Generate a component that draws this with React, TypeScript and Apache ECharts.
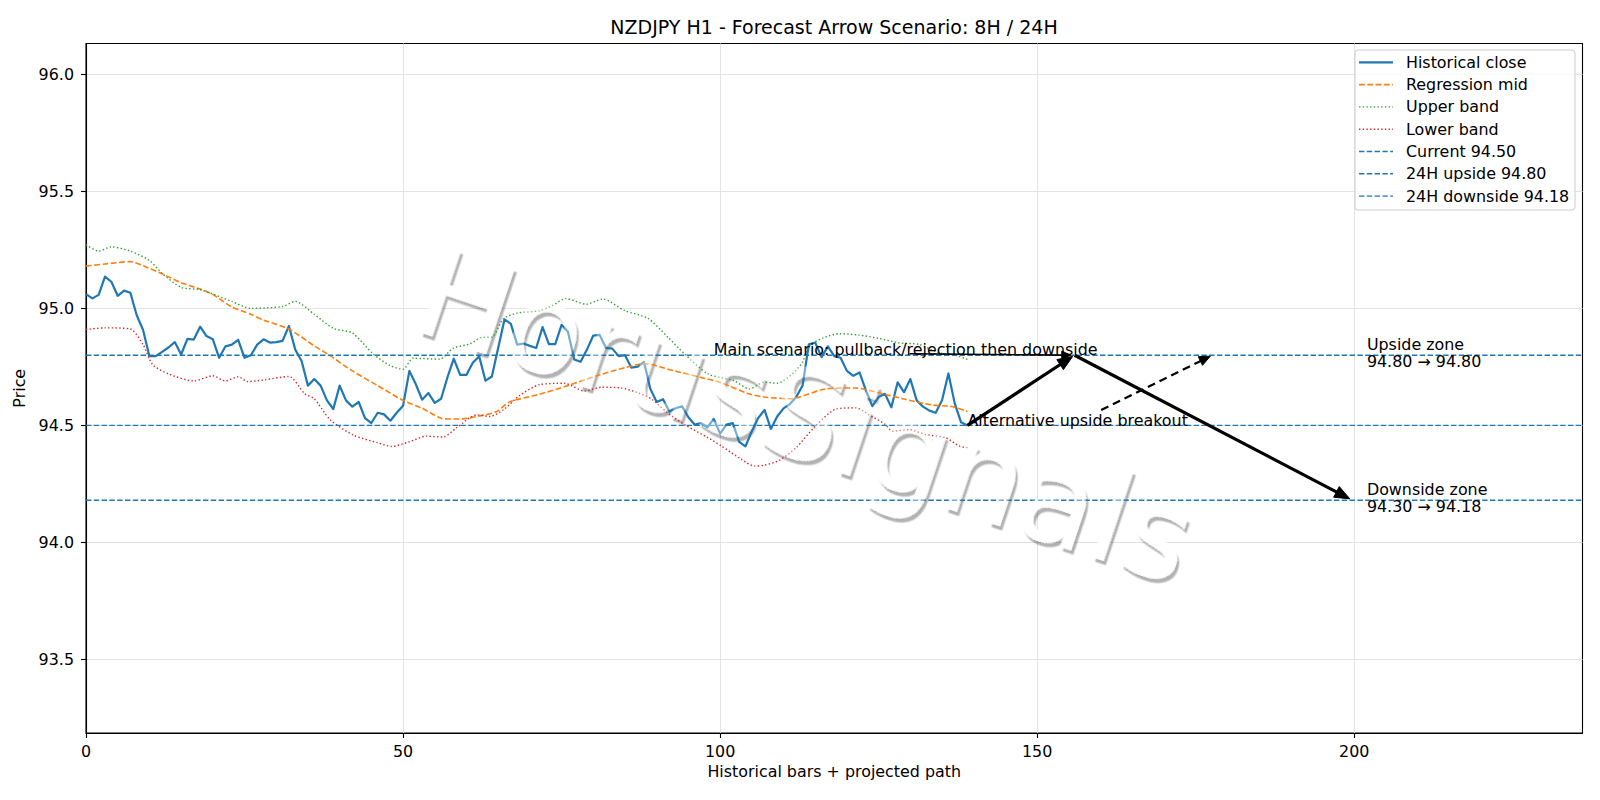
import React, { useEffect, useRef } from "react";
import * as echarts from "echarts";

const FONT = "DejaVu Sans";
const FS = 15.9;

// Historical close (bar index 0..139)
const closeValues: number[] = [
  95.061, 95.043, 95.058, 95.136, 95.114, 95.054, 95.076, 95.067, 94.971, 94.908,
  94.796, 94.796, 94.814, 94.833, 94.856, 94.803, 94.870, 94.867, 94.922, 94.882,
  94.868, 94.789, 94.838, 94.845, 94.866, 94.789, 94.800, 94.845, 94.868, 94.854,
  94.856, 94.861, 94.925, 94.824, 94.775, 94.670, 94.698, 94.670, 94.607, 94.570,
  94.670, 94.607, 94.580, 94.600, 94.531, 94.510, 94.554, 94.547, 94.520, 94.554,
  94.584, 94.733, 94.677, 94.610, 94.638, 94.596, 94.614, 94.705, 94.785, 94.716,
  94.716, 94.768, 94.796, 94.691, 94.709, 94.831, 94.953, 94.934, 94.845, 94.850,
  94.840, 94.831, 94.920, 94.847, 94.847, 94.930, 94.900, 94.782, 94.772, 94.824,
  94.884, 94.887, 94.831, 94.828, 94.796, 94.800, 94.747, 94.751, 94.771, 94.656,
  94.600, 94.612, 94.559, 94.573, 94.582, 94.535, 94.503, 94.510, 94.492, 94.528,
  94.465, 94.503, 94.510, 94.430, 94.410, 94.475, 94.531, 94.566, 94.485, 94.538,
  94.573, 94.591, 94.621, 94.670, 94.847, 94.854, 94.792, 94.838, 94.796, 94.789,
  94.733, 94.712, 94.726, 94.649, 94.582, 94.621, 94.635, 94.577, 94.684, 94.642,
  94.698, 94.607, 94.580, 94.563, 94.554, 94.607, 94.722, 94.594, 94.513, 94.500,
];

// Regression mid [bar, price]
const regressionMid: [number, number][] = [
  [0, 95.181], [3, 95.19], [7, 95.2], [9, 95.182], [12, 95.148], [15, 95.11], [18, 95.083],
  [20, 95.06], [23, 95.006], [26, 94.975], [28, 94.95], [32, 94.912], [36, 94.84],
  [38.5, 94.798], [42, 94.733], [46, 94.67], [50, 94.607], [53, 94.573], [56, 94.531],
  [57.5, 94.527], [59.5, 94.528], [62, 94.54], [64.7, 94.558], [66.8, 94.6], [71.5, 94.633],
  [76, 94.67], [81, 94.716], [85, 94.747], [88, 94.764], [92.8, 94.733], [97, 94.705],
  [100, 94.684], [104.4, 94.636], [107, 94.621], [111, 94.614], [116.7, 94.656],
  [121.4, 94.66], [124.6, 94.642], [128.8, 94.614], [133.5, 94.587], [136.7, 94.58], [139, 94.559],
];

// Upper band [bar, price]
const upperBand: [number, number][] = [
  [0, 95.272], [2, 95.245], [4, 95.263], [7, 95.245], [10, 95.205], [12, 95.15], [15, 95.09],
  [18, 95.08], [23, 95.03], [26, 95.0], [31, 95.008], [33, 95.03], [36, 94.975],
  [39, 94.915], [42, 94.895], [45.3, 94.805], [48, 94.755], [50, 94.74], [51.6, 94.787],
  [55.8, 94.783], [57.9, 94.83], [60.5, 94.848], [62.6, 94.877], [64, 94.877], [65.8, 94.955],
  [68, 94.98], [71.5, 94.99], [73.4, 95.01], [75.7, 95.042], [78.9, 95.018], [81.5, 95.04],
  [85, 94.99], [88.6, 94.958], [91.8, 94.876], [94.4, 94.805], [98.1, 94.72], [102.2, 94.691],
  [104.6, 94.656], [107, 94.685], [109, 94.68], [111.4, 94.72], [113, 94.77], [114, 94.838],
  [116.2, 94.873], [118.8, 94.892], [121.9, 94.886], [125, 94.872], [128.2, 94.853],
  [131.4, 94.846], [134.5, 94.81], [136.7, 94.803], [139, 94.782],
];

// Lower band [bar, price]
const lowerBand: [number, number][] = [
  [0, 94.91], [3, 94.917], [7, 94.912], [9, 94.845], [10.5, 94.76], [13, 94.72], [17, 94.69],
  [20, 94.712], [22, 94.69], [24, 94.708], [25.5, 94.687], [28, 94.694], [32, 94.709],
  [34.5, 94.635], [36, 94.614], [38.5, 94.524], [42.2, 94.458], [46, 94.426], [48.2, 94.41],
  [51, 94.43], [53.7, 94.454], [56.3, 94.45], [58.4, 94.489], [61.6, 94.545], [63.7, 94.538],
  [65.8, 94.566], [68.4, 94.628], [71.5, 94.674], [75.5, 94.68], [78.6, 94.647], [81.3, 94.663],
  [84.4, 94.66], [87, 94.64], [89.1, 94.614], [91.8, 94.552], [94.4, 94.503], [98.1, 94.447],
  [100.2, 94.412], [103.3, 94.356], [105.4, 94.326], [107, 94.33], [109.3, 94.35], [112, 94.405],
  [115, 94.496], [118.3, 94.57], [121.4, 94.575], [123.5, 94.545], [126, 94.505], [127.2, 94.475],
  [129.8, 94.482], [132.4, 94.461], [135.6, 94.447], [137.7, 94.412], [139, 94.405],
];

const currentLevel = 94.5;
const upsideLevel = 94.8;
const downsideLevel = 94.18;

const xTicks = [0, 50, 100, 150, 200];
const yTicks = [93.5, 94.0, 94.5, 95.0, 95.5, 96.0];
const X_MIN = 0;
const X_MAX = 236;
const Y_MIN = 93.185;
const Y_MAX = 96.1325;

// Arrow end points: [x1, y1, x2, y2]
const arrowPoints: number[][] = [
  [139, 94.5, 155.6, 94.795],
  [155.9, 94.8, 199.3, 94.186],
  [129.9, 94.806, 155.3, 94.8],
  [160.1, 94.566, 177.3, 94.796],
];
// Arrow styles: lineWidth, dashed, head length, head half width
const arrowStyles = [
  { w: 3.2, dashed: false, hl: 15, hw: 6 },
  { w: 3.2, dashed: false, hl: 15, hw: 6 },
  { w: 1.6, dashed: false, hl: 9, hw: 4 },
  { w: 2.2, dashed: true, hl: 11, hw: 4.8 },
];

// Annotations
const annotationTexts = [
  "Main scenario: pullback/rejection then downside",
  "Alternative upside breakout",
  "Upside zone\n94.80 \u2192 94.80",
  "Downside zone\n94.30 \u2192 94.18",
];
const annotationX = [99, 139, 202, 202];
const annotationY = [94.8, 94.5, 94.8, 94.18];
const annotationShift = [-6, -5, -2.3, -2.3];

const legendNames = [
  "Historical close",
  "Regression mid",
  "Upper band",
  "Lower band",
  "Current 94.50",
  "24H upside 94.80",
  "24H downside 94.18",
];

const lineStyles: any[] = [
  { color: "#1f77b4", width: 2.2, type: "solid" },
  { color: "#ff7f0e", width: 1.6, type: [5.8, 2.5] },
  { color: "#2ca02c", width: 1.4, type: [1.4, 2.3] },
  { color: "#d62728", width: 1.4, type: [1.4, 2.3] },
  { color: "#1f77b4", width: 1.4, type: [5.4, 2.4] },
  { color: "#1f77b4", width: 1.4, type: [5.4, 2.4] },
  { color: "#1f77b4", width: 1.4, type: [5.4, 2.4] },
];

const WATERMARK = "HorusSignals";

function hLine(level: number): [number, number][] {
  return [
    [X_MIN, level],
    [X_MAX, level],
  ];
}

export default function App() {
  const ref = useRef<HTMLDivElement>(null);

  useEffect(() => {
    if (!ref.current) return;
    const chart = echarts.init(ref.current, null, { renderer: "svg" });

    const axisText = { color: "#000", fontSize: FS, fontFamily: FONT };

    const seriesData: any[] = [
      closeValues.map((v, i) => [i, v]),
      regressionMid,
      upperBand,
      lowerBand,
      hLine(currentLevel),
      hLine(upsideLevel),
      hLine(downsideLevel),
    ];
    const smoothFlags = [false, 0.25, 0.25, 0.25, false, false, false];

    const lineSeries = legendNames.map((name, k) => ({
      name,
      type: "line",
      data: seriesData[k],
      symbol: "none",
      smooth: smoothFlags[k],
      lineStyle: { ...lineStyles[k], join: "round" },
      itemStyle: { color: lineStyles[k].color },
      z: 3,
    }));

    // manual legend (matplotlib style)
    const legLeft = 1355;
    const legTop = 50;
    const rowY0 = 62.3;
    const rowGap = 22.3;
    const legendGraphics: any[] = [
      {
        type: "rect",
        shape: { x: legLeft, y: legTop, width: 220, height: 160, r: 3 },
        style: { fill: "rgba(255,255,255,0.8)", stroke: "#cccccc", lineWidth: 1 },
        z: 50,
        silent: true,
      },
    ];
    legendNames.forEach((name, k) => {
      const cy = rowY0 + k * rowGap;
      const ls = lineStyles[k];
      legendGraphics.push({
        type: "line",
        shape: { x1: 1359, y1: cy, x2: 1393, y2: cy },
        style: {
          stroke: ls.color,
          lineWidth: ls.width,
          lineDash: Array.isArray(ls.type) ? ls.type : null,
        },
        z: 51,
        silent: true,
      });
      legendGraphics.push({
        type: "text",
        x: 1406,
        y: cy,
        style: { text: name, fill: "#000", fontFamily: FONT, fontSize: FS, verticalAlign: "middle", align: "left" },
        z: 51,
        silent: true,
      });
    });

    const wmBase = {
      x: 806,
      y: 416,
      rotation: (-18.5 * Math.PI) / 180,
      silent: true,
    };

    const option: any = {
      animation: false,
      backgroundColor: "#ffffff",
      textStyle: { fontFamily: FONT },
      title: {
        text: "NZDJPY H1 - Forecast Arrow Scenario: 8H / 24H",
        left: 834,
        top: 17,
        padding: 0,
        textAlign: "center",
        textStyle: { fontFamily: FONT, fontSize: 19, fontWeight: "normal", color: "#000" },
      },
      grid: {
        left: 86,
        top: 43.5,
        width: 1496.5,
        height: 689.5,
        show: true,
        borderColor: "#000",
        borderWidth: 1.1,
        backgroundColor: "transparent",
        containLabel: false,
      },
      xAxis: {
        type: "value",
        min: X_MIN,
        max: X_MAX,
        name: "Historical bars + projected path",
        nameLocation: "middle",
        nameGap: 29.5,
        nameTextStyle: { ...axisText },
        axisLine: { show: true, onZero: false, lineStyle: { color: "#000", width: 1.1 } },
        axisTick: { show: true, inside: false, length: 5, customValues: xTicks, lineStyle: { color: "#000", width: 1.1 } },
        axisLabel: { ...axisText, margin: 10, customValues: xTicks, formatter: (v: number) => String(Math.round(v)) },
        splitLine: { show: true, lineStyle: { color: "#e3e3e3", width: 1 } },
      },
      yAxis: {
        type: "value",
        min: Y_MIN,
        max: Y_MAX,
        name: "Price",
        nameLocation: "middle",
        nameGap: 45.5,
        nameTextStyle: { ...axisText },
        axisLine: { show: true, onZero: false, lineStyle: { color: "#000", width: 1.1 } },
        axisTick: { show: true, inside: false, length: 5, customValues: yTicks, lineStyle: { color: "#000", width: 1.1 } },
        axisLabel: { ...axisText, margin: 12, customValues: yTicks, formatter: (v: number) => v.toFixed(1) },
        splitLine: { show: true, lineStyle: { color: "#e3e3e3", width: 1 } },
      },
      series: [
        ...lineSeries,
        {
          name: "arrows",
          type: "custom",
          data: arrowPoints,
          z: 5,
          silent: true,
          renderItem: (params: any, api: any) => {
            const st = arrowStyles[params.dataIndex];
            const p1 = api.coord([api.value(0), api.value(1)]);
            const p2 = api.coord([api.value(2), api.value(3)]);
            const dx = p2[0] - p1[0];
            const dy = p2[1] - p1[1];
            const len = Math.hypot(dx, dy) || 1;
            const ux = dx / len;
            const uy = dy / len;
            const bx = p2[0] - ux * st.hl;
            const by = p2[1] - uy * st.hl;
            return {
              type: "group",
              children: [
                {
                  type: "line",
                  shape: { x1: p1[0], y1: p1[1], x2: bx + ux * 2, y2: by + uy * 2 },
                  style: { stroke: "#000", lineWidth: st.w, lineDash: st.dashed ? [8, 5] : null, fill: null },
                },
                {
                  type: "polygon",
                  shape: {
                    points: [
                      [p2[0], p2[1]],
                      [bx - uy * st.hw, by + ux * st.hw],
                      [bx + uy * st.hw, by - ux * st.hw],
                    ],
                  },
                  style: { fill: "#000", stroke: "#000", lineWidth: 1 },
                },
              ],
            };
          },
        },
        {
          name: "annotations",
          type: "custom",
          data: annotationX.map((x, k) => [x, annotationY[k]]),
          z: 6,
          silent: true,
          renderItem: (params: any, api: any) => {
            const p = api.coord([api.value(0), api.value(1)]);
            return {
              type: "text",
              x: p[0],
              y: p[1] + annotationShift[params.dataIndex],
              style: {
                text: annotationTexts[params.dataIndex],
                fill: "#000",
                fontFamily: FONT,
                fontSize: FS,
                lineHeight: 16.5,
                align: "left",
                verticalAlign: "middle",
              },
            };
          },
        },
      ],
      graphic: [
        {
          type: "text",
          ...wmBase,
          z: 1,
          style: {
            text: WATERMARK,
            fontFamily: FONT,
            fontSize: 124,
            fill: "#ffffff",
            align: "center",
            verticalAlign: "middle",
            textShadowColor: "rgba(0,0,0,0.3)",
            textShadowBlur: 1.5,
            textShadowOffsetX: 3.5,
            textShadowOffsetY: 3.5,
          },
        },
        {
          type: "text",
          ...wmBase,
          z: 40,
          style: {
            text: WATERMARK,
            fontFamily: FONT,
            fontSize: 124,
            fill: "#ffffff",
            opacity: 0.4,
            align: "center",
            verticalAlign: "middle",
          },
        },
        ...legendGraphics,
      ],
    };

    chart.setOption(option);
    return () => {
      chart.dispose();
    };
  }, []);

  return (
    <div
      ref={ref}
      style={{ position: "fixed", left: 0, top: 0, width: 1600, height: 800, background: "#fff" }}
    />
  );
}
